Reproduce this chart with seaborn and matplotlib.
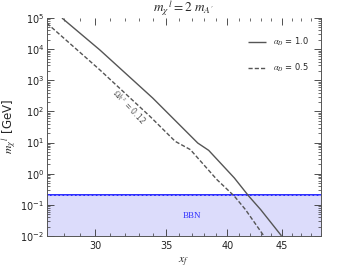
import matplotlib

matplotlib.use("Agg")

import matplotlib.pyplot as plt
import matplotlib.ticker as mticker
import numpy as np
import pandas as pd
import seaborn as sns

# relic-density curves (x_f, m_chi in GeV)
xf_a1 = [27.9, 30.3, 34.0, 37.5, 38.4, 40.6, 41.9, 43.0, 45.0]
m_a1 = [1e5, 9.4e3, 267, 9.6, 5.6, 0.73, 0.19, 0.07, 0.01]
xf_a05 = [27.0, 30.3, 33.8, 35.7, 36.9, 39.1, 40.6, 41.6, 43.3]
m_a05 = [6.8e4, 2150, 68.7, 10.9, 5.9, 0.64, 0.19, 0.07, 0.01]
labels = [r"$\alpha_D$ = 1.0", r"$\alpha_D$ = 0.5"]
bbn_limit = 0.2
xticks = [30, 35, 40, 45]

sns.set_style("ticks")
plt.rcParams["mathtext.fontset"] = "stix"
plt.rcParams["font.family"] = ["DejaVu Sans"]

df = pd.concat([
    pd.DataFrame({"xf": xf_a1, "m": m_a1, "case": labels[0]}),
    pd.DataFrame({"xf": xf_a05, "m": m_a05, "case": labels[1]}),
])

fig = plt.figure(figsize=(3.4, 2.73), dpi=100)
ax = fig.add_axes([0.138, 0.136, 0.805, 0.798])

ax.axhspan(1e-3, bbn_limit, color="#dcdcfb", zorder=0)
ax.axhline(bbn_limit, color="#1a1aff", lw=1.3, zorder=1)
ax.axhline(bbn_limit, color="#9a9aff", lw=0.6, ls=(0, (3, 2)), zorder=1)
ax.text(37.0, 0.042, "BBN", color="#3333ff", fontsize=6.5, ha="center",
        va="center", family="Liberation Serif")

sns.lineplot(data=df, x="xf", y="m", hue="case", style="case",
             palette=["#555555", "#555555"], dashes=[(1, 0), (3, 1.5)],
             sort=False, estimator=None, lw=1.0, ax=ax)

ax.set_xscale("log")
ax.set_yscale("log")
ax.set_xlim(27, 49)
ax.set_ylim(1e-2, 1e5)

ax.xaxis.set_major_locator(mticker.FixedLocator(xticks))
ax.xaxis.set_major_formatter(mticker.FixedFormatter([str(t) for t in xticks]))
ax.xaxis.set_minor_locator(mticker.FixedLocator(np.arange(27, 50)))
ax.xaxis.set_minor_formatter(mticker.NullFormatter())
ax.yaxis.set_major_locator(mticker.LogLocator(base=10, numticks=20))
ax.yaxis.set_minor_locator(mticker.LogLocator(base=10, subs=np.arange(2, 10), numticks=20))

ax.tick_params(which="both", direction="in", top=True, right=True,
               colors="#333333", labelsize=7, labelcolor="#222222")
ax.tick_params(axis="y", pad=2)
ax.tick_params(which="major", length=5, width=0.6)
ax.tick_params(which="minor", length=2.5, width=0.5)
for side in ["left", "right", "bottom"]:
    ax.spines[side].set_color("#555555")
    ax.spines[side].set_linewidth(0.7)
ax.spines["top"].set_visible(False)

ax.text(32.3, 140, r"$\Omega h^2$ = 0.12", fontsize=5.5, color="#555555",
        rotation=-47, ha="center", va="center")

ax.set_title(r"$m_{\chi}{}^{\,l} = 2\; m_{A^{\prime}}$", fontsize=9.5, pad=3)
ax.set_xlabel(r"$x_f$", fontsize=8.5, labelpad=4)
ax.set_ylabel(r"$m_{\chi}{}^{\,l}$ [GeV]", fontsize=8.5, labelpad=1)

ax.legend(frameon=False, fontsize=6, loc="upper right", handlelength=2.2,
          labelspacing=1.6, borderaxespad=1.0, bbox_to_anchor=(1.0, 0.97))

fig.savefig("out.png", dpi=100)
